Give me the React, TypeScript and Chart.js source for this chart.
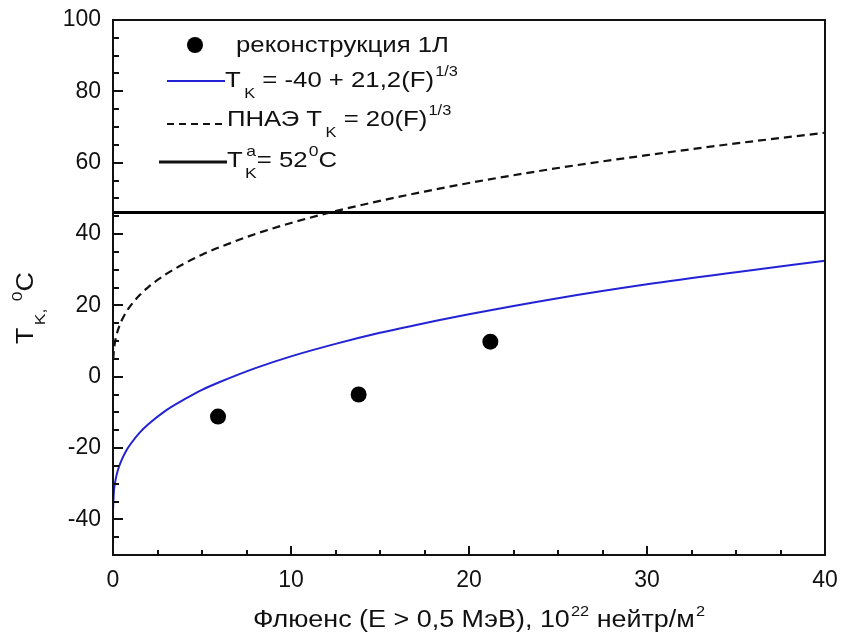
import React, { useEffect, useRef } from "react";
import { Chart, registerables } from "chart.js";

Chart.register(...registerables);

// ---- data ----
const reconF = [5.9, 13.8, 21.2];
const reconT = [-11.2, -5.0, 9.8];

const modelF = [0.002, 0.05, 0.1, 0.2, 0.3, 0.5, 0.75, 1, 1.5, 2, 3, 4, 5, 6, 8, 10, 12.5, 15, 17.5, 20, 25, 30, 35, 40];
const modelT = [-37.3, -32.2, -30.2, -27.6, -25.8, -23.2, -20.7, -18.8, -15.7, -13.3, -9.4, -6.4, -3.7, -1.5, 2.4, 5.7, 9.2, 12.3, 15.0, 17.5, 22.0, 25.9, 29.3, 32.5];

const pnaeF = [0.015, 0.05, 0.1, 0.2, 0.3, 0.5, 0.75, 1, 1.5, 2, 3, 4, 5, 6, 8, 10, 12.5, 15, 17.5, 20, 25, 30, 35, 40];
const pnaeT = [4.9, 7.4, 9.3, 11.7, 13.4, 15.9, 18.2, 20, 22.9, 25.2, 28.8, 31.7, 34.2, 36.3, 40, 43.1, 46.4, 49.3, 51.9, 54.3, 58.5, 62.1, 65.4, 68.4];

const limitF = [0, 40];
const limitT = [46, 46];

const xMajorTicks = [0, 10, 20, 30, 40];
const xMinorTicks = [2.5, 5, 7.5, 12.5, 15, 17.5, 22.5, 25, 27.5, 32.5, 35, 37.5];
const yMajorTicks = [-40, -20, 0, 20, 40, 60, 80, 100];
const yMinorTicks = [-45, -35, -30, -25, -15, -10, -5, 5, 10, 15, 25, 30, 35, 45, 50, 55, 65, 70, 75, 85, 90, 95];

const FONT = 'Arial, "Liberation Sans", sans-serif';
const BLUE = "#2323d6";
const INK = "#111111";

type Seg = { t: string; k?: "sub" | "sup"; sup?: string; gap?: number };

function drawRich(
  ctx: CanvasRenderingContext2D,
  x: number,
  y: number,
  segs: Seg[],
  size: number,
  small: number,
  sx: number,
  draw = true
): number {
  ctx.save();
  ctx.translate(x, y);
  ctx.scale(sx, 1);
  ctx.textAlign = "left";
  ctx.textBaseline = "alphabetic";
  ctx.fillStyle = INK;
  let cx = 0;
  for (const s of segs) {
    cx += s.gap || 0;
    if (!s.k) {
      ctx.font = `${size}px ${FONT}`;
      if (draw) ctx.fillText(s.t, cx, 0);
      cx += ctx.measureText(s.t).width;
    } else {
      ctx.font = `${small}px ${FONT}`;
      const dy = s.k === "sub" ? size * 0.5 : -size * 0.48;
      if (draw) ctx.fillText(s.t, cx, dy);
      let w = ctx.measureText(s.t).width;
      if (s.sup) {
        if (draw) ctx.fillText(s.sup, cx + 1, -size * 0.5);
        w = Math.max(w, ctx.measureText(s.sup).width + 1);
      }
      cx += w;
    }
  }
  ctx.restore();
  return cx * sx;
}

const decorPlugin = {
  id: "decor",
  afterDatasetsDraw(chart: any) {
    const ctx: CanvasRenderingContext2D = chart.ctx;
    const { left, right, top, bottom } = chart.chartArea;
    const xs = chart.scales.x;
    const ys = chart.scales.y;
    ctx.save();
    ctx.strokeStyle = INK;
    ctx.lineWidth = 2;
    ctx.beginPath();
    for (const v of xMajorTicks) {
      const px = Math.round(xs.getPixelForValue(v));
      ctx.moveTo(px, bottom);
      ctx.lineTo(px, bottom - 9);
    }
    for (const v of xMinorTicks) {
      const px = Math.round(xs.getPixelForValue(v));
      ctx.moveTo(px, bottom);
      ctx.lineTo(px, bottom - 5);
    }
    for (const v of yMajorTicks) {
      const py = Math.round(ys.getPixelForValue(v));
      ctx.moveTo(left, py);
      ctx.lineTo(left + 10, py);
    }
    for (const v of yMinorTicks) {
      const py = Math.round(ys.getPixelForValue(v));
      ctx.moveTo(left, py);
      ctx.lineTo(left + 6, py);
    }
    ctx.stroke();
    ctx.strokeRect(left, top, right - left, bottom - top);
    ctx.restore();
  },
  afterDraw(chart: any) {
    const ctx: CanvasRenderingContext2D = chart.ctx;
    const SX = 1.17;
    ctx.save();
    // legend row 1: marker
    ctx.fillStyle = "#000";
    ctx.beginPath();
    ctx.arc(195, 45, 8, 0, Math.PI * 2);
    ctx.fill();
    drawRich(ctx, 236, 52, [{ t: "реконструкция 1Л" }], 22, 14, SX);
    // row 2: blue line
    ctx.strokeStyle = BLUE;
    ctx.lineWidth = 2;
    ctx.beginPath();
    ctx.moveTo(167, 81);
    ctx.lineTo(225, 81);
    ctx.stroke();
    drawRich(
      ctx,
      225,
      87,
      [{ t: "T" }, { t: "K", k: "sub", gap: 3 }, { t: " = -40 + 21,2(F)" }, { t: "1/3", k: "sup", gap: 1 }],
      22,
      14,
      SX
    );
    // row 3: dashed
    ctx.strokeStyle = INK;
    ctx.setLineDash([7, 5]);
    ctx.lineWidth = 2;
    ctx.beginPath();
    ctx.moveTo(167, 124);
    ctx.lineTo(225, 124);
    ctx.stroke();
    ctx.setLineDash([]);
    drawRich(
      ctx,
      227,
      126,
      [{ t: "ПНАЭ T" }, { t: "K", k: "sub", gap: 3 }, { t: " = 20(F)" }, { t: "1/3", k: "sup", gap: 1 }],
      22,
      14,
      SX
    );
    // row 4: solid black
    ctx.lineWidth = 3;
    ctx.beginPath();
    ctx.moveTo(159, 162);
    ctx.lineTo(227, 162);
    ctx.stroke();
    drawRich(
      ctx,
      227,
      167,
      [{ t: "T" }, { t: "K", k: "sub", sup: "a", gap: 2 }, { t: "= 52" }, { t: "0", k: "sup", gap: 1 }, { t: "C" }],
      22,
      15,
      SX
    );

    // x axis title
    const xt: Seg[] = [
      { t: "Флюенс (Е > 0,5 МэВ), 10" },
      { t: "22", k: "sup", gap: 1 },
      { t: " нейтр/м" },
      { t: "2", k: "sup", gap: 1 },
    ];
    const w = drawRich(ctx, 0, 0, xt, 23, 14, SX, false);
    drawRich(ctx, 479 - w / 2, 627, xt, 23, 14, SX);

    // y axis title (rotated)
    ctx.save();
    ctx.translate(33, 344);
    ctx.rotate(-Math.PI / 2);
    drawRich(
      ctx,
      0,
      0,
      [{ t: "T" }, { t: "K,", k: "sub", gap: 2 }, { t: " " }, { t: "0", k: "sup" }, { t: "C" }],
      23,
      15,
      SX
    );
    ctx.restore();
    ctx.restore();
  },
};

export default function App() {
  const ref = useRef<HTMLCanvasElement | null>(null);
  useEffect(() => {
    document.body.style.margin = "0";
    const canvas = ref.current;
    if (!canvas) return;
    const toXY = (xa: number[], ya: number[]) => xa.map((x, i) => ({ x, y: ya[i] }));
    const chart = new Chart(canvas, {
      type: "line",
      data: {
        datasets: [
          {
            label: "ПНАЭ",
            data: toXY(pnaeF, pnaeT),
            borderColor: INK,
            borderWidth: 2.2,
            borderDash: [8, 5],
            pointRadius: 0,
            cubicInterpolationMode: "monotone",
            fill: false,
          },
          {
            label: "model",
            data: toXY(modelF, modelT),
            borderColor: BLUE,
            borderWidth: 2,
            pointRadius: 0,
            cubicInterpolationMode: "monotone",
            fill: false,
          },
          {
            label: "limit",
            data: toXY(limitF, limitT),
            borderColor: "#000",
            borderWidth: 3,
            pointRadius: 0,
            fill: false,
          },
          {
            label: "реконструкция 1Л",
            data: toXY(reconF, reconT),
            showLine: false,
            pointRadius: 8,
            pointBackgroundColor: "#000",
            pointBorderColor: "#000",
            pointBorderWidth: 0,
          },
        ] as any,
      },
      options: {
        animation: false,
        responsive: false,
        maintainAspectRatio: false,
        layout: { padding: { left: 0, top: 20, right: 17, bottom: 0 } },
        plugins: {
          legend: { display: false },
          tooltip: { enabled: false },
          title: { display: false },
        },
        scales: {
          x: {
            type: "linear",
            min: 0,
            max: 40,
            grid: { display: false, drawTicks: false },
            border: { display: false },
            afterBuildTicks: (s: any) => {
              s.ticks = xMajorTicks.map((v) => ({ value: v }));
            },
            afterFit: (s: any) => {
              s.height = 87;
              s.paddingLeft = 0;
              s.paddingRight = 0;
            },
            ticks: {
              padding: 12,
              color: "#111",
              font: { family: FONT, size: 23 },
              maxRotation: 0,
              callback: (v: any) => String(v),
            },
          },
          y: {
            type: "linear",
            min: -50,
            max: 100,
            grid: { display: false, drawTicks: false },
            border: { display: false },
            afterBuildTicks: (s: any) => {
              s.ticks = yMajorTicks.map((v) => ({ value: v }));
            },
            afterFit: (s: any) => {
              s.width = 113;
              s.paddingTop = 0;
              s.paddingBottom = 0;
            },
            ticks: {
              padding: 12,
              color: "#111",
              font: { family: FONT, size: 23 },
              callback: (v: any) => String(v),
            },
          },
        },
      } as any,
      plugins: [decorPlugin],
    });
    return () => chart.destroy();
  }, []);
  return (
    <div style={{ width: 842, height: 642, background: "#fff" }}>
      <canvas ref={ref} width={842} height={642} style={{ display: "block" }} />
    </div>
  );
}
